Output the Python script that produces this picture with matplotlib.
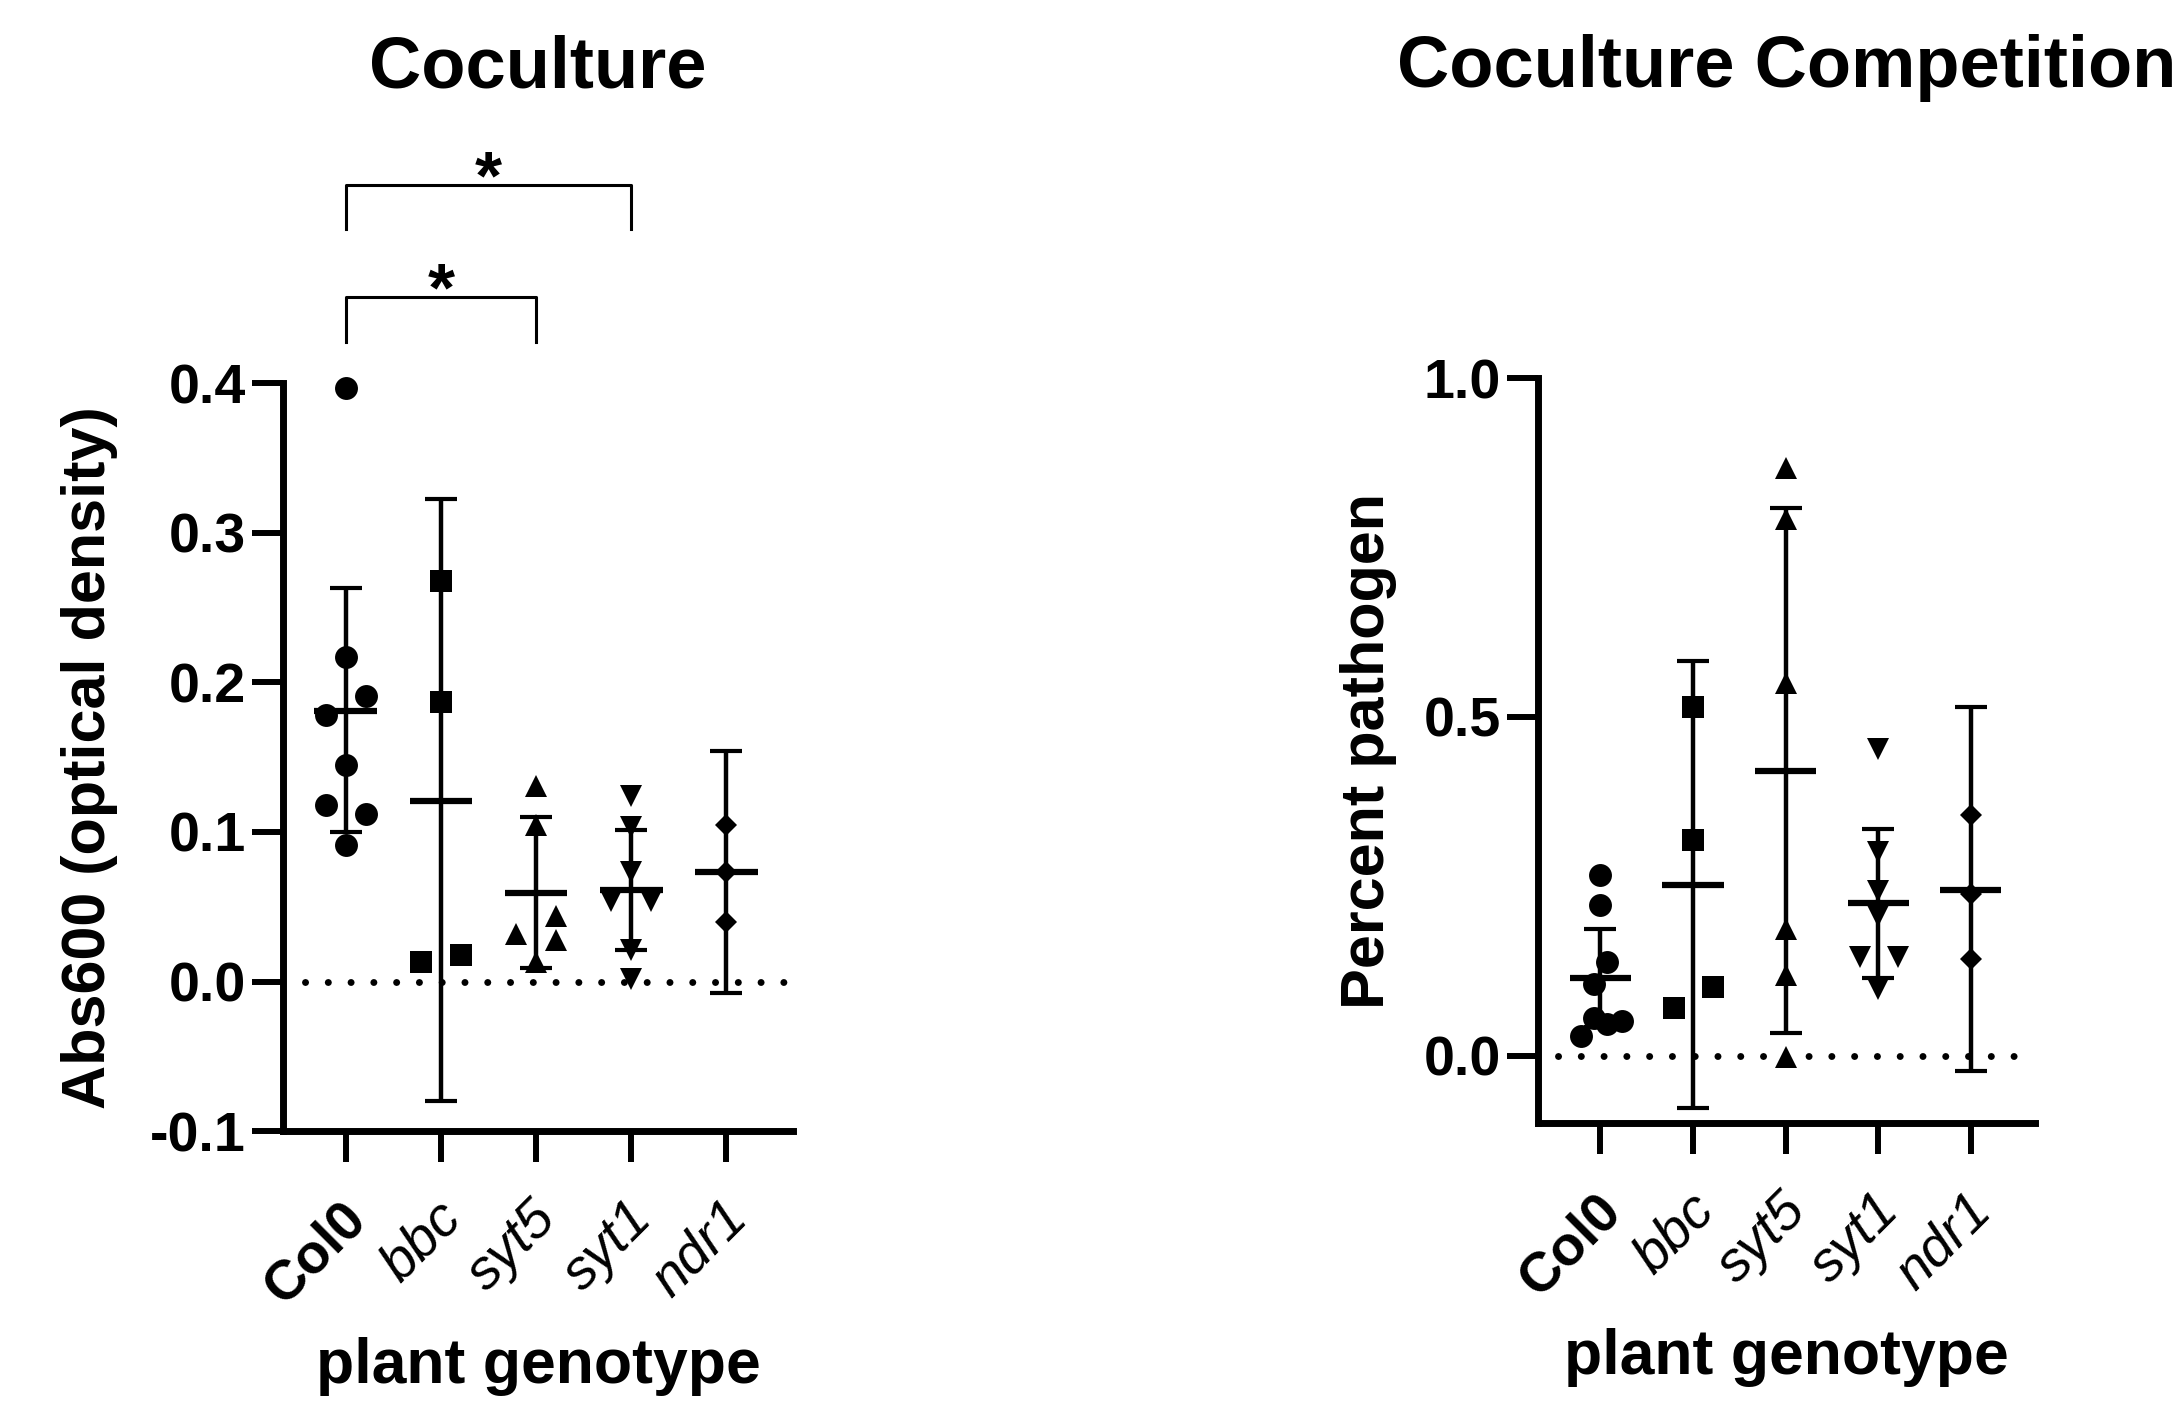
import matplotlib
matplotlib.use("Agg")
import matplotlib.pyplot as plt
from matplotlib.transforms import ScaledTranslation

plt.rcParams["font.family"] = ["Liberation Sans", "DejaVu Sans"]

GENOTYPES = ["Col0", "bbc", "syt5", "syt1", "ndr1"]
MARKERS = ["o", "s", "^", "v", "D"]
MARKER_SIZES = {"o": 16.5, "s": 16.5, "^": 16, "v": 16, "D": 11.5}

# --- Coculture: Abs600 (optical density) ---
coc_values = [
    [0.397, 0.217, 0.191, 0.178, 0.145, 0.118, 0.112, 0.091],
    [0.268, 0.187, 0.013, 0.018],
    [0.131, 0.105, 0.044, 0.032, 0.028, 0.013],
    [0.124, 0.103, 0.073, 0.054, 0.054, 0.021, 0.002],
    [0.105, 0.073, 0.040],
]
coc_dx = [
    [0, 0, 0.21, -0.21, 0, -0.21, 0.21, 0],
    [0, 0, -0.21, 0.21],
    [0, 0, 0.21, -0.21, 0.21, 0],
    [0, 0, 0, -0.21, 0.21, 0, 0],
    [0, 0, 0],
]
coc_mean = [0.181, 0.121, 0.059, 0.061, 0.073]
coc_low = [0.100, -0.080, 0.009, 0.021, -0.008]
coc_high = [0.263, 0.323, 0.110, 0.101, 0.154]

# significance brackets: from group, to group, bar y, leg end y, star baseline y
sig_from = [0, 0]
sig_to = [3, 2]
sig_bar = [0.533, 0.458]
sig_leg = [0.503, 0.428]
sig_star = [0.524, 0.449]

# --- Coculture Competition: Percent pathogen ---
comp_values = [
    [0.266, 0.223, 0.138, 0.106, 0.055, 0.047, 0.051, 0.029],
    [0.514, 0.319, 0.070, 0.102],
    [0.868, 0.792, 0.550, 0.187, 0.119, -0.002],
    [0.453, 0.300, 0.243, 0.206, 0.145, 0.145, 0.099],
    [0.356, 0.239, 0.142],
]
comp_dx = [
    [0, 0, 0.07, -0.07, -0.07, 0.07, 0.23, -0.21],
    [0, 0, -0.21, 0.215],
    [0, 0, 0, 0, 0, 0],
    [0, 0, 0, 0, -0.2, 0.21, 0],
    [0, 0, 0],
]
comp_mean = [0.115, 0.252, 0.420, 0.226, 0.245]
comp_low = [0.043, -0.077, 0.034, 0.115, -0.022]
comp_high = [0.187, 0.582, 0.809, 0.335, 0.514]


def draw_panel(ax, values, dxs, means, lows, highs):
    for i, (vals, offs) in enumerate(zip(values, dxs)):
        m = MARKERS[i]
        xs = [i + d for d in offs]
        ax.plot(xs, vals, linestyle="none", marker=m, ms=MARKER_SIZES[m],
                color="black", markeredgewidth=0, zorder=3, clip_on=False)
        ax.errorbar(i, means[i], yerr=[[means[i] - lows[i]], [highs[i] - means[i]]],
                    fmt="none", ecolor="black", elinewidth=3.2, capsize=11.5,
                    capthick=3, zorder=2)
        ax.plot([i - 0.33, i + 0.33], [means[i], means[i]], color="black", lw=4.5,
                solid_capstyle="butt", zorder=4)


def style_axes(ax, xlim, ylim, yticks, ylabels, ylabel, ylabel_x, dot_start):
    ax.set_xlim(*xlim)
    ax.set_ylim(*ylim)
    ax.plot([dot_start, xlim[1] - 0.02], [0, 0], color="black", lw=5,
            linestyle=(0, (0.01, 3.27)), dash_capstyle="round", zorder=1)
    for s in ("top", "right"):
        ax.spines[s].set_visible(False)
    for s in ("left", "bottom"):
        ax.spines[s].set_linewidth(5)
        ax.spines[s].set_capstyle("projecting")
    ax.tick_params(axis="both", direction="out", length=22, width=4.3)
    ax.set_yticks(yticks)
    ax.set_yticklabels(ylabels, fontsize=40, fontweight="bold")
    ax.tick_params(axis="y", pad=5)
    ax.set_xticks(range(len(GENOTYPES)))
    ax.set_xticklabels(GENOTYPES, fontsize=40, rotation=45, ha="right", va="top",
                       rotation_mode="anchor")
    ax.tick_params(axis="x", pad=22)
    offset = ScaledTranslation(-4 / 72, 0, ax.figure.dpi_scale_trans)
    for j, lab in enumerate(ax.get_xticklabels()):
        if j == 0:
            lab.set_fontweight("bold")
        else:
            lab.set_fontstyle("italic")
        lab.set_transform(lab.get_transform() + offset)
    ax.set_ylabel(ylabel, fontsize=44, fontweight="bold")
    ax.yaxis.set_label_coords(ylabel_x, 0.5)
    ax.set_xlabel("plant genotype", fontsize=45, fontweight="bold")
    ax.xaxis.set_label_coords(0.5, -0.275)


fig = plt.figure(figsize=(21.77, 14.05), dpi=100)
ax1 = fig.add_axes([0.1300, 0.1950, 0.2342, 0.5321])
ax2 = fig.add_axes([0.7066, 0.2004, 0.2281, 0.5304])

draw_panel(ax1, coc_values, coc_dx, coc_mean, coc_low, coc_high)
style_axes(ax1, (-0.66, 4.70), (-0.1, 0.4), [-0.1, 0.0, 0.1, 0.2, 0.3, 0.4],
           ["-0.1", "0.0", "0.1", "0.2", "0.3", "0.4"],
           "Abs600 (optical density)", -0.324, -0.43)

for a, b, ybar, yleg, ystar in zip(sig_from, sig_to, sig_bar, sig_leg, sig_star):
    ax1.plot([a, a, b, b], [yleg, ybar, ybar, yleg], color="black", lw=2.2,
             clip_on=False)
    ax1.text((a + b) / 2, ystar, "*", fontsize=50, fontweight="bold",
             ha="center", va="baseline", clip_on=False)

draw_panel(ax2, comp_values, comp_dx, comp_mean, comp_low, comp_high)
style_axes(ax2, (-0.67, 4.69), (-0.1, 1.0), [0.0, 0.5, 1.0],
           ["0.0", "0.5", "1.0"], "Percent pathogen", -0.285, -0.46)

for ax, title in ((ax1, "Coculture"), (ax2, "Coculture Competition")):
    pos = ax.get_position()
    fig.text(pos.x0 + pos.width / 2, 1 - 87 / 1405, title, fontsize=52,
             fontweight="bold", ha="center", va="baseline")

fig.savefig("out.png", dpi=100, facecolor="white")
